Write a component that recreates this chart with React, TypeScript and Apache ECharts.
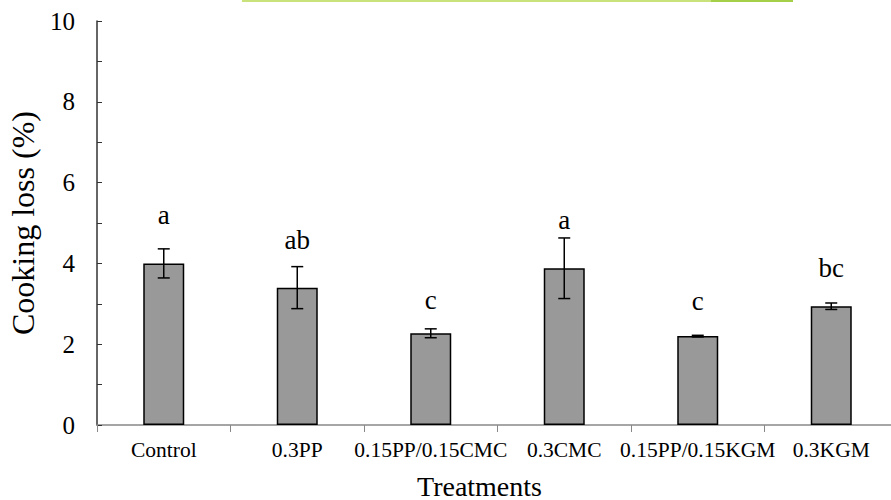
import React, { useEffect, useRef } from "react";
import * as echarts from "echarts";

const categories = ["Control", "0.3PP", "0.15PP/0.15CMC", "0.3CMC", "0.15PP/0.15KGM", "0.3KGM"];
const means = [4.0, 3.4, 2.27, 3.88, 2.2, 2.94];
const errors = [0.36, 0.52, 0.11, 0.75, 0.02, 0.08];
const letters = ["a", "ab", "c", "a", "c", "bc"];
const letterPos = [5.2, 4.58, 3.09, 5.07, 3.07, 3.89];
const yTicks = [0, 2, 4, 6, 8, 10];

const FONT = "Liberation Serif";

export default function App() {
  const ref = useRef<HTMLDivElement>(null);
  useEffect(() => {
    if (!ref.current) return;
    const chart = echarts.init(ref.current, null, { renderer: "svg" });
    chart.setOption({
      animation: false,
      backgroundColor: "#ffffff",
      textStyle: { fontFamily: FONT },
      grid: { left: 97, right: -7, top: 21, bottom: 75, containLabel: false, outerBoundsMode: "none" },
      graphic: [
        { type: "rect", shape: { x: 242, y: 0, width: 470, height: 2 }, style: { fill: "#c9e27c" } },
        { type: "rect", shape: { x: 711, y: 0, width: 82, height: 2 }, style: { fill: "#a3d048" } },
      ],
      xAxis: {
        type: "category",
        data: categories,
        name: "Treatments",
        nameLocation: "middle",
        nameGap: 48,
        nameTextStyle: { fontFamily: FONT, fontSize: 28, lineHeight: 26, color: "#000", padding: [0, 36, 0, 0] },
        axisLine: { show: true, lineStyle: { color: "#888888", width: 1.5 } },
        axisTick: { show: true, alignWithLabel: false, length: 7, lineStyle: { color: "#888888" } },
        axisLabel: { fontFamily: FONT, fontSize: 21.5, color: "#000", margin: 14, interval: 0 },
        splitLine: { show: false },
      },
      yAxis: {
        type: "value",
        min: 0,
        max: 10,
        interval: 2,
        name: "Cooking loss (%)",
        nameLocation: "middle",
        nameGap: 57,
        nameTextStyle: { fontFamily: FONT, fontSize: 32, color: "#000" },
        axisLine: { show: true, lineStyle: { color: "#333333", width: 1.5 } },
        axisTick: { show: true, inside: true, length: 5, lineStyle: { color: "#333333" } },
        minorTick: { show: true, splitNumber: 2, length: 5, lineStyle: { color: "#333333" } },
        axisLabel: {
          fontFamily: FONT,
          fontSize: 25,
          color: "#000",
          margin: 22,
          formatter: (v: number) => (yTicks.includes(v) ? String(v) : ""),
        },
        splitLine: { show: false },
      },
      series: [
        {
          type: "bar",
          data: means,
          barWidth: 41,
          itemStyle: { color: "#999999", borderColor: "#000000", borderWidth: 1.5 },
        },
        {
          type: "custom",
          data: means.map((m, i) => [i, m, errors[i], letterPos[i]]),
          renderItem: (params: any, api: any) => {
            const i = api.value(0);
            const m = api.value(1);
            const e = api.value(2);
            const lp = api.value(3);
            const top = api.coord([i, m + e]);
            const bot = api.coord([i, m - e]);
            const lpt = api.coord([i, lp]);
            const cap = 6;
            const style = { stroke: "#000", lineWidth: 1.5 };
            return {
              type: "group",
              children: [
                { type: "line", shape: { x1: top[0], y1: top[1], x2: bot[0], y2: bot[1] }, style },
                { type: "line", shape: { x1: top[0] - cap, y1: top[1], x2: top[0] + cap, y2: top[1] }, style },
                { type: "line", shape: { x1: bot[0] - cap, y1: bot[1], x2: bot[0] + cap, y2: bot[1] }, style },
                {
                  type: "text",
                  x: lpt[0],
                  y: lpt[1],
                  style: {
                    text: letters[params.dataIndex],
                    fontFamily: FONT,
                    fontSize: 27,
                    fill: "#000",
                    align: "center",
                    verticalAlign: "middle",
                  },
                },
              ],
            };
          },
          z: 5,
        },
      ],
    });
    return () => chart.dispose();
  }, []);
  return <div ref={ref} style={{ width: 891, height: 500, position: "absolute", left: 0, top: 0 }} />;
}
